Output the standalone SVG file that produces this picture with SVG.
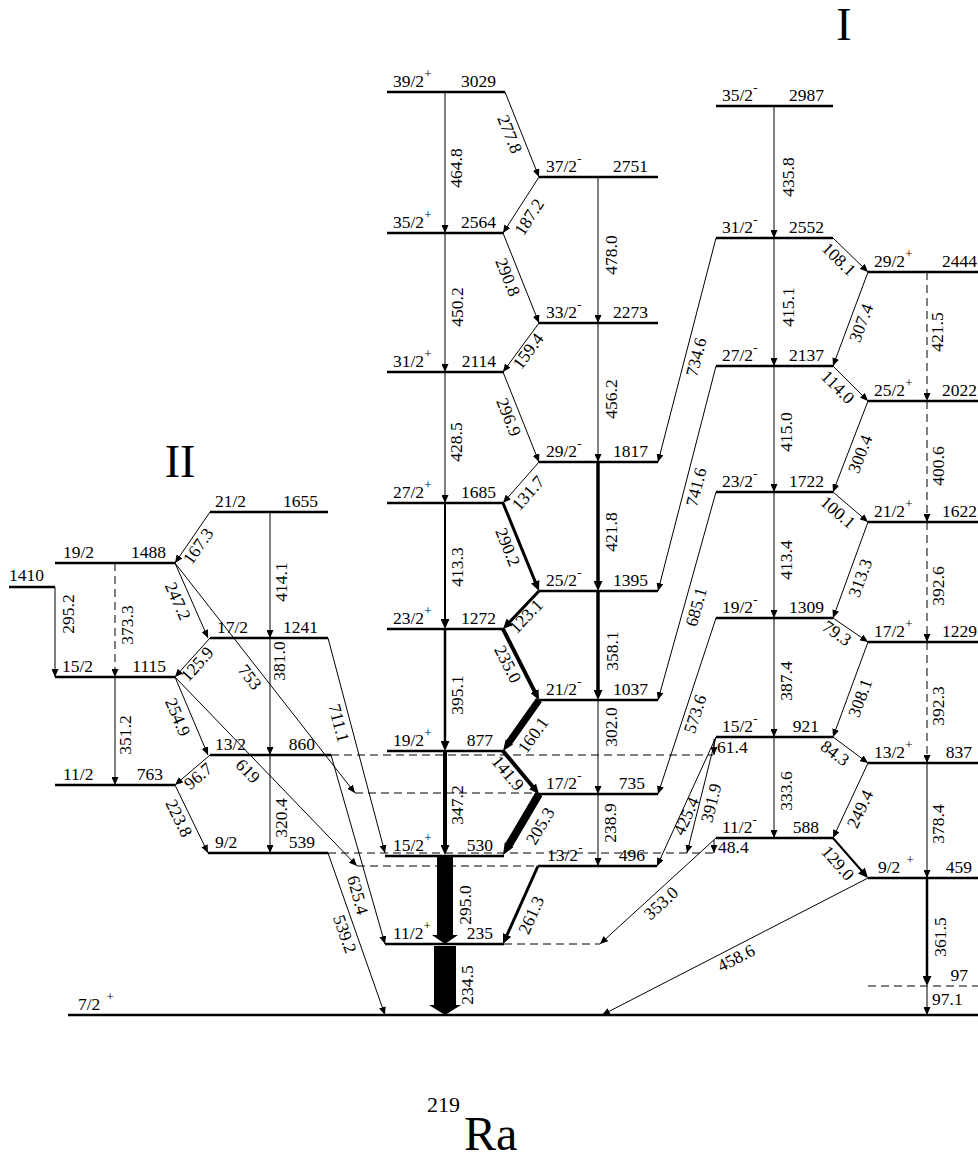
<svg xmlns="http://www.w3.org/2000/svg" width="978" height="1166" viewBox="0 0 978 1166">
<defs>
<marker id="a" markerUnits="userSpaceOnUse" markerWidth="8" markerHeight="7" viewBox="0 0 8 7" refX="8" refY="3.5" orient="auto"><path d="M0,0 L8,3.5 L0,7 z" fill="#000"/></marker>
<marker id="ab" markerUnits="userSpaceOnUse" markerWidth="10" markerHeight="9" viewBox="0 0 10 9" refX="5" refY="4.5" orient="auto"><path d="M0,0 L10,4.5 L0,9 z" fill="#000"/></marker>
<style>
text{font-family:"Liberation Serif","Times New Roman",serif;font-size:17.5px;fill:#000}
.lv{stroke:#000;stroke-width:2.6;fill:none}
.lx{stroke:#000;stroke-width:1;stroke-dasharray:8 5;fill:none}
.t{stroke:#000;stroke-width:1;fill:none;marker-end:url(#a)}
.tb{stroke:#000;fill:none;marker-end:url(#ab)}
.d{stroke-dasharray:8 5}
.m{text-anchor:middle}
.e{text-anchor:end}
.s{font-size:13px}
.big{font-size:46px}
</style>
</defs>
<rect width="978" height="1166" fill="#fff"/>

<!-- Band labels -->
<text class="big m" x="844" y="40">I</text>
<text class="big m" x="180" y="477">II</text>
<text x="427" y="1112" style="font-size:22px">219</text>
<text x="464" y="1150" style="font-size:48px">Ra</text>

<!-- Levels: band II -->
<g id="lv-1655"><line class="lv" x1="210" y1="512" x2="328" y2="512"/><text x="215" y="507">21/2</text><text class="e" x="318" y="507">1655</text></g>
<g id="lv-1488"><line class="lv" x1="55" y1="563" x2="175" y2="563"/><text x="63" y="558">19/2</text><text class="e" x="166" y="558">1488</text></g>
<g id="lv-1410"><line class="lv" x1="9" y1="587" x2="55" y2="587"/><text x="9" y="581">1410</text></g>
<g id="lv-1241"><line class="lv" x1="210" y1="638" x2="328" y2="638"/><text x="217" y="633">17/2</text><text class="e" x="318" y="633">1241</text></g>
<g id="lv-1115"><line class="lv" x1="55" y1="677" x2="175" y2="677"/><text x="62" y="672">15/2</text><text class="e" x="166" y="672">1115</text></g>
<g id="lv-860"><line class="lv" x1="210" y1="755" x2="331" y2="755"/><line class="lx" x1="331" y1="755" x2="713" y2="755"/><text x="215" y="750">13/2</text><text class="e" x="315" y="750">860</text></g>
<g id="lv-763"><line class="lv" x1="55" y1="785" x2="175" y2="785"/><text x="63" y="780">11/2</text><text class="e" x="163" y="780">763</text></g>
<g id="lv-539"><line class="lv" x1="208" y1="853" x2="328" y2="853"/><line class="lx" x1="328" y1="853" x2="713" y2="853"/><text x="215" y="848">9/2</text><text class="e" x="315" y="848">539</text></g>

<!-- Levels: center positive parity -->
<g id="lv-3029"><line class="lv" x1="387" y1="92" x2="505" y2="92"/><text x="393" y="87">39/2<tspan class="s" dy="-9">+</tspan></text><text class="e" x="496" y="87">3029</text></g>
<g id="lv-2564"><line class="lv" x1="387" y1="233" x2="504" y2="233"/><text x="393" y="228">35/2<tspan class="s" dy="-9">+</tspan></text><text class="e" x="496" y="228">2564</text></g>
<g id="lv-2114"><line class="lv" x1="387" y1="372" x2="504" y2="372"/><text x="393" y="367">31/2<tspan class="s" dy="-9">+</tspan></text><text class="e" x="496" y="367">2114</text></g>
<g id="lv-1685"><line class="lv" x1="387" y1="503" x2="504" y2="503"/><text x="393" y="498">27/2<tspan class="s" dy="-9">+</tspan></text><text class="e" x="496" y="498">1685</text></g>
<g id="lv-1272"><line class="lv" x1="387" y1="629" x2="504" y2="629"/><text x="393" y="624">23/2<tspan class="s" dy="-9">+</tspan></text><text class="e" x="496" y="624">1272</text></g>
<g id="lv-877"><line class="lv" x1="387" y1="751" x2="504" y2="751"/><text x="393" y="746">19/2<tspan class="s" dy="-9">+</tspan></text><text class="e" x="493" y="746">877</text></g>
<g id="lv-530"><line class="lv" x1="385" y1="856" x2="504" y2="856"/><text x="393" y="851">15/2<tspan class="s" dy="-9">+</tspan></text><text class="e" x="493" y="851">530</text></g>
<g id="lv-235"><line class="lv" x1="385" y1="944" x2="504" y2="944"/><line class="lx" x1="504" y1="944" x2="600" y2="944"/><text x="393" y="939">11/2<tspan class="s" dy="-9">+</tspan></text><text class="e" x="493" y="939">235</text></g>

<!-- Levels: center negative parity -->
<g id="lv-2751"><line class="lv" x1="539" y1="177" x2="658" y2="177"/><text x="546" y="172">37/2<tspan class="s" dy="-9">-</tspan></text><text class="e" x="648" y="172">2751</text></g>
<g id="lv-2273"><line class="lv" x1="539" y1="323" x2="658" y2="323"/><text x="546" y="318">33/2<tspan class="s" dy="-9">-</tspan></text><text class="e" x="648" y="318">2273</text></g>
<g id="lv-1817"><line class="lv" x1="539" y1="462" x2="658" y2="462"/><text x="546" y="457">29/2<tspan class="s" dy="-9">-</tspan></text><text class="e" x="648" y="457">1817</text></g>
<g id="lv-1395"><line class="lv" x1="539" y1="591" x2="658" y2="591"/><text x="546" y="586">25/2<tspan class="s" dy="-9">-</tspan></text><text class="e" x="648" y="586">1395</text></g>
<g id="lv-1037"><line class="lv" x1="539" y1="700" x2="658" y2="700"/><text x="546" y="695">21/2<tspan class="s" dy="-9">-</tspan></text><text class="e" x="648" y="695">1037</text></g>
<g id="lv-735"><line class="lv" x1="539" y1="794" x2="658" y2="794"/><line class="lx" x1="355" y1="793" x2="539" y2="793"/><text x="546" y="789">17/2<tspan class="s" dy="-9">-</tspan></text><text class="e" x="645" y="789">735</text></g>
<g id="lv-496"><line class="lv" x1="538" y1="866" x2="657" y2="866"/><line class="lx" x1="357" y1="866" x2="538" y2="866"/><text x="547" y="861">13/2<tspan class="s" dy="-9">-</tspan></text><text class="e" x="645" y="861">496</text></g>

<!-- Levels: band I negative -->
<g id="lv-2987"><line class="lv" x1="716" y1="106" x2="833" y2="106"/><text x="722" y="101">35/2<tspan class="s" dy="-9">-</tspan></text><text class="e" x="824" y="101">2987</text></g>
<g id="lv-2552"><line class="lv" x1="716" y1="238" x2="833" y2="238"/><text x="722" y="233">31/2<tspan class="s" dy="-9">-</tspan></text><text class="e" x="824" y="233">2552</text></g>
<g id="lv-2137"><line class="lv" x1="716" y1="366" x2="833" y2="366"/><text x="722" y="361">27/2<tspan class="s" dy="-9">-</tspan></text><text class="e" x="824" y="361">2137</text></g>
<g id="lv-1722"><line class="lv" x1="716" y1="492" x2="833" y2="492"/><text x="722" y="487">23/2<tspan class="s" dy="-9">-</tspan></text><text class="e" x="824" y="487">1722</text></g>
<g id="lv-1309"><line class="lv" x1="716" y1="618" x2="833" y2="618"/><text x="722" y="613">19/2<tspan class="s" dy="-9">-</tspan></text><text class="e" x="824" y="613">1309</text></g>
<g id="lv-921"><line class="lv" x1="716" y1="737" x2="833" y2="737"/><text x="722" y="732">15/2<tspan class="s" dy="-9">-</tspan></text><text class="e" x="819" y="732">921</text></g>
<g id="lv-588"><line class="lv" x1="716" y1="838" x2="833" y2="838"/><text x="722" y="833">11/2<tspan class="s" dy="-9">-</tspan></text><text class="e" x="819" y="833">588</text></g>

<!-- Levels: band I positive -->
<g id="lv-2444"><line class="lv" x1="868" y1="272" x2="978" y2="272"/><text x="874" y="267">29/2<tspan class="s" dy="-9">+</tspan></text><text class="e" x="977" y="267">2444</text></g>
<g id="lv-2022"><line class="lv" x1="868" y1="401" x2="978" y2="401"/><text x="874" y="396">25/2<tspan class="s" dy="-9">+</tspan></text><text class="e" x="977" y="396">2022</text></g>
<g id="lv-1622"><line class="lv" x1="868" y1="522" x2="978" y2="522"/><text x="874" y="517">21/2<tspan class="s" dy="-9">+</tspan></text><text class="e" x="977" y="517">1622</text></g>
<g id="lv-1229"><line class="lv" x1="868" y1="642" x2="978" y2="642"/><text x="874" y="637">17/2<tspan class="s" dy="-9">+</tspan></text><text class="e" x="977" y="637">1229</text></g>
<g id="lv-837"><line class="lv" x1="868" y1="763" x2="978" y2="763"/><text x="874" y="758">13/2<tspan class="s" dy="-9">+</tspan></text><text class="e" x="972" y="758">837</text></g>
<g id="lv-459"><line class="lv" x1="868" y1="878" x2="978" y2="878"/><text x="878" y="873">9/2<tspan class="s" dx="6" dy="-9">+</tspan></text><text class="e" x="972" y="873">459</text></g>
<g id="lv-97"><line class="lx" x1="868" y1="986" x2="978" y2="986"/><text class="e" x="968" y="981">97</text></g>
<g id="lv-0"><line class="lv" x1="68" y1="1015" x2="978" y2="1015"/><text x="78" y="1010">7/2<tspan class="s" dx="6" dy="-9">+</tspan></text></g>

<!-- Connectors -->
<g id="transitions">
<line class="t" x1="55" y1="587" x2="55" y2="677"/>
<line class="t d" x1="115" y1="563" x2="115" y2="677"/>
<line class="t" x1="115" y1="677" x2="115" y2="785"/>
<line class="t" x1="270" y1="512" x2="270" y2="638"/>
<line class="t" x1="270" y1="638" x2="270" y2="755"/>
<line class="t" x1="270" y1="755" x2="270" y2="853"/>
<line class="t" x1="210" y1="512" x2="175" y2="563"/>
<line class="t" x1="175" y1="563" x2="208" y2="638"/>
<line class="t" x1="175" y1="563" x2="355" y2="793"/>
<line class="t" x1="210" y1="638" x2="175" y2="677"/>
<line class="t" x1="175" y1="677" x2="208" y2="755"/>
<line class="t" x1="175" y1="677" x2="357" y2="866"/>
<line class="t" x1="328" y1="638" x2="385" y2="853"/>
<line class="t" x1="210" y1="755" x2="175" y2="785"/>
<line class="t" x1="175" y1="785" x2="208" y2="853"/>
<line class="t" x1="331" y1="755" x2="385" y2="944"/>
<line class="t" x1="328" y1="853" x2="385" y2="1015"/>
<line class="t" x1="445" y1="92" x2="445" y2="233"/>
<line class="t" x1="445" y1="233" x2="445" y2="372"/>
<line class="t" x1="445" y1="372" x2="445" y2="503"/>
<line class="tb" stroke-width="2" x1="445" y1="503" x2="445" y2="624"/>
<line class="tb" stroke-width="2.5" x1="445" y1="629" x2="445" y2="746"/>
<line class="tb" stroke-width="4" x1="445" y1="751" x2="445" y2="850"/>
<polygon points="437,857 453,857 453,935 458,935 445,944 432,935 437,935" fill="#000"/>
<polygon points="434,946 456,946 456,1005 461,1005 445,1015 429,1005 434,1005" fill="#000"/>
<line class="t" x1="505" y1="92" x2="539" y2="177"/>
<line class="t" x1="539" y1="177" x2="503" y2="233"/>
<line class="t" x1="503" y1="233" x2="539" y2="323"/>
<line class="t" x1="539" y1="323" x2="503" y2="372"/>
<line class="t" stroke-width="1.8" x1="503" y1="372" x2="539" y2="462"/>
<line class="t" stroke-width="1.8" x1="539" y1="462" x2="503" y2="503"/>
<line class="tb" stroke-width="3" x1="503" y1="503" x2="537.11" y2="586.37"/>
<line class="tb" stroke-width="3" x1="539" y1="591" x2="506.44" y2="625.37"/>
<line class="tb" stroke-width="4" x1="503" y1="629" x2="536.74" y2="695.54"/>
<polygon points="536.14,697.98 541.86,702.02 512.2,744.03 513.02,744.61 503,751 505.66,739.41 506.48,739.99" fill="#000"/>
<line class="tb" stroke-width="4" x1="503" y1="751" x2="535.79" y2="790.17"/>
<polygon points="535.56,791.97 542.44,796.03 512.54,846.7 513.41,847.21 503,855 504.79,842.13 505.66,842.64" fill="#000"/>
<line class="tb" stroke-width="3" x1="538" y1="866" x2="505.05" y2="939.44"/>
<line class="t" x1="598" y1="177" x2="598" y2="323"/>
<line class="t" x1="598" y1="323" x2="598" y2="462"/>
<line class="tb" stroke-width="3.5" x1="598" y1="462" x2="598" y2="586"/>
<line class="tb" stroke-width="3.5" x1="598" y1="591" x2="598" y2="695"/>
<line class="t" stroke-width="1.5" x1="598" y1="700" x2="598" y2="794"/>
<line class="t" x1="598" y1="794" x2="598" y2="866"/>
<line class="t" x1="774" y1="106" x2="774" y2="238"/>
<line class="t" x1="774" y1="238" x2="774" y2="366"/>
<line class="t" stroke-width="1.5" x1="774" y1="366" x2="774" y2="492"/>
<line class="t" stroke-width="1.5" x1="774" y1="492" x2="774" y2="618"/>
<line class="t" stroke-width="1.5" x1="774" y1="618" x2="774" y2="737"/>
<line class="t" stroke-width="1.5" x1="774" y1="737" x2="774" y2="838"/>
<line class="t" x1="716" y1="238" x2="658" y2="462"/>
<line class="t" x1="716" y1="366" x2="658" y2="591"/>
<line class="t" x1="716" y1="492" x2="658" y2="700"/>
<line class="t" x1="716" y1="618" x2="658" y2="794"/>
<line class="t" x1="714" y1="739" x2="714" y2="755"/>
<line class="t" x1="716" y1="737" x2="657" y2="866"/>
<line class="t" x1="716" y1="737" x2="687" y2="853"/>
<line class="t" x1="714" y1="840" x2="714" y2="853"/>
<line class="t" x1="716" y1="838" x2="600" y2="944"/>
<line class="t" x1="833" y1="238" x2="868" y2="272"/>
<line class="t" x1="868" y1="272" x2="833" y2="366"/>
<line class="t" x1="833" y1="366" x2="868" y2="401"/>
<line class="t" x1="868" y1="401" x2="833" y2="492"/>
<line class="t" x1="833" y1="492" x2="868" y2="522"/>
<line class="t" x1="868" y1="522" x2="833" y2="618"/>
<line class="t" x1="833" y1="618" x2="868" y2="642"/>
<line class="t" x1="868" y1="642" x2="833" y2="737"/>
<line class="t" x1="833" y1="737" x2="868" y2="763"/>
<line class="t" x1="868" y1="763" x2="833" y2="838"/>
<line class="tb" stroke-width="2" x1="833" y1="838" x2="864.71" y2="874.24"/>
<line class="t" x1="868" y1="878" x2="602" y2="1015"/>
<line class="t d" x1="927" y1="272" x2="927" y2="401"/>
<line class="t d" x1="927" y1="401" x2="927" y2="522"/>
<line class="t d" x1="927" y1="522" x2="927" y2="642"/>
<line class="t d" x1="927" y1="642" x2="927" y2="763"/>
<line class="t" x1="927" y1="763" x2="927" y2="878"/>
<line class="tb" stroke-width="2.5" x1="927" y1="878" x2="927" y2="981"/>
<line class="t" x1="927" y1="986" x2="927" y2="1015"/>
</g>

<!-- Transition labels -->
<g id="labels">
<text class="m" transform="translate(68,614) rotate(-90)" y="6">295.2</text>
<text class="m" transform="translate(127,625) rotate(-90)" y="6">373.3</text>
<text class="m" transform="translate(125,735) rotate(-90)" y="6">351.2</text>
<text class="m" transform="translate(281,582) rotate(-90)" y="6">414.1</text>
<text class="m" transform="translate(279,661) rotate(-90)" y="6">381.0</text>
<text class="m" transform="translate(281,818) rotate(-90)" y="6">320.4</text>
<text class="m" transform="translate(198,546) rotate(-55.5)" y="6">167.3</text>
<text class="m" transform="translate(178,601) rotate(66.3)" y="6">247.2</text>
<text class="m" transform="translate(250,677) rotate(52)" y="6">753</text>
<text class="m" transform="translate(197,664) rotate(-48.1)" y="6">125.9</text>
<text class="m" transform="translate(178,717) rotate(67.1)" y="6">254.9</text>
<text class="m" transform="translate(248,771) rotate(46.1)" y="6">619</text>
<text class="m" transform="translate(339,723) rotate(75.2)" y="6">711.1</text>
<text class="m" transform="translate(198,776) rotate(-40.6)" y="6">96.7</text>
<text class="m" transform="translate(179,818) rotate(64.1)" y="6">223.8</text>
<text class="m" transform="translate(358,895) rotate(74.6)" y="6">625.4</text>
<text class="m" transform="translate(345,934) rotate(70.6)" y="6">539.2</text>

<text class="m" transform="translate(456,168) rotate(-90)" y="6">464.8</text>
<text class="m" transform="translate(457,307) rotate(-90)" y="6">450.2</text>
<text class="m" transform="translate(456,442) rotate(-90)" y="6">428.5</text>
<text class="m" transform="translate(457,567) rotate(-90)" y="6">413.3</text>
<text class="m" transform="translate(457,695) rotate(-90)" y="6">395.1</text>
<text class="m" transform="translate(457,805) rotate(-90)" y="6">347.2</text>
<text class="m" transform="translate(465,905) rotate(-90)" y="6">295.0</text>
<text class="m" transform="translate(467,985) rotate(-90)" y="6">234.5</text>
<text class="m" transform="translate(510,134) rotate(68.2)" y="6">277.8</text>
<text class="m" transform="translate(529,217) rotate(-57.3)" y="6">187.2</text>
<text class="m" transform="translate(508,277) rotate(68.2)" y="6">290.8</text>
<text class="m" transform="translate(528,351) rotate(-53.7)" y="6">159.4</text>
<text class="m" transform="translate(509,417) rotate(68.2)" y="6">296.9</text>
<text class="m" transform="translate(528,493) rotate(-48.7)" y="6">131.7</text>
<text class="m" transform="translate(508,547) rotate(67.8)" y="6">290.2</text>
<text class="m" transform="translate(526,616) rotate(-46.5)" y="6">123.1</text>
<text class="m" transform="translate(508,664) rotate(63.1)" y="6">235.0</text>
<text class="m" transform="translate(533,735) rotate(-54.8)" y="6">160.1</text>
<text class="m" transform="translate(508,773) rotate(50.1)" y="6">141.9</text>
<text class="m" transform="translate(540,826) rotate(-59.5)" y="6">205.3</text>
<text class="m" transform="translate(531,915) rotate(-65.8)" y="6">261.3</text>
<text class="m" transform="translate(611,255) rotate(-90)" y="6">478.0</text>
<text class="m" transform="translate(611,399) rotate(-90)" y="6">456.2</text>
<text class="m" transform="translate(611,532) rotate(-90)" y="6">421.8</text>
<text class="m" transform="translate(612,651) rotate(-90)" y="6">358.1</text>
<text class="m" transform="translate(611,727) rotate(-90)" y="6">302.0</text>
<text class="m" transform="translate(610,823) rotate(-90)" y="6">238.9</text>

<text class="m" transform="translate(788,177) rotate(-90)" y="6">435.8</text>
<text class="m" transform="translate(788,307) rotate(-90)" y="6">415.1</text>
<text class="m" transform="translate(786,432) rotate(-90)" y="6">415.0</text>
<text class="m" transform="translate(786,560) rotate(-90)" y="6">413.4</text>
<text class="m" transform="translate(786,681) rotate(-90)" y="6">387.4</text>
<text class="m" transform="translate(786,791) rotate(-90)" y="6">333.6</text>
<text class="m" transform="translate(696,357) rotate(-75.5)" y="6">734.6</text>
<text class="m" transform="translate(696,487) rotate(-75.5)" y="6">741.6</text>
<text class="m" transform="translate(696,607) rotate(-74.4)" y="6">685.1</text>
<text class="m" transform="translate(695,714) rotate(-71.8)" y="6">573.6</text>
<text class="m" transform="translate(686,816) rotate(-65.4)" y="6">425.4</text>
<text class="m" transform="translate(711,803) rotate(-76)" y="6">391.9</text>
<text class="m" transform="translate(661,903) rotate(-42.4)" y="6">353.0</text>
<text class="m" transform="translate(736,958) rotate(-27.2)" y="6">458.6</text>
<text x="717" y="753">61.4</text>
<text x="718" y="853">48.4</text>

<text class="m" transform="translate(839,259) rotate(44.2)" y="6">108.1</text>
<text class="m" transform="translate(861,323) rotate(-69.6)" y="6">307.4</text>
<text class="m" transform="translate(838,387) rotate(45)" y="6">114.0</text>
<text class="m" transform="translate(860,454) rotate(-69)" y="6">300.4</text>
<text class="m" transform="translate(838,512) rotate(40.6)" y="6">100.1</text>
<text class="m" transform="translate(860,578) rotate(-70)" y="6">313.3</text>
<text class="m" transform="translate(837,633) rotate(34.4)" y="6">79.3</text>
<text class="m" transform="translate(860,698) rotate(-69.8)" y="6">308.1</text>
<text class="m" transform="translate(835,753) rotate(36.6)" y="6">84.3</text>
<text class="m" transform="translate(860,809) rotate(-65)" y="6">249.4</text>
<text class="m" transform="translate(838,863) rotate(48.8)" y="6">129.0</text>
<text class="m" transform="translate(937,332) rotate(-90)" y="6">421.5</text>
<text class="m" transform="translate(938,466) rotate(-90)" y="6">400.6</text>
<text class="m" transform="translate(938,586) rotate(-90)" y="6">392.6</text>
<text class="m" transform="translate(938,706) rotate(-90)" y="6">392.3</text>
<text class="m" transform="translate(938,824) rotate(-90)" y="6">378.4</text>
<text class="m" transform="translate(940,937) rotate(-90)" y="6">361.5</text>
<text x="932" y="1005">97.1</text>
</g>
</svg>
